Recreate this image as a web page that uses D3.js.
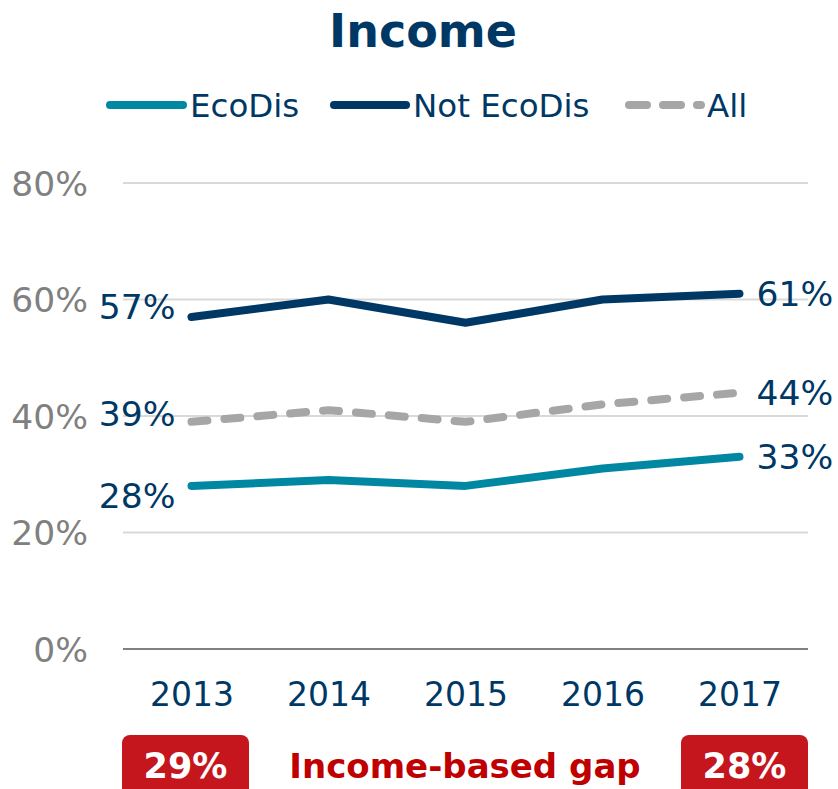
<!DOCTYPE html>
<html><head><meta charset="utf-8">
<script src="https://cdn.jsdelivr.net/npm/d3@7"></script>
<style>body{margin:0;background:#fff}svg{display:block}text{font-family:"DejaVu Sans",Verdana,sans-serif}</style>
</head><body><svg id="c" width="838" height="789"></svg>
<script>
const years = ["2013","2014","2015","2016","2017"];
const ecoDis = [28, 29, 28, 31, 33];
const notEcoDis = [57, 60, 56, 60, 61];
const all = [39, 41, 39, 42, 44];
const yTicks = [0, 20, 40, 60, 80];
const seriesNames = ["EcoDis", "Not EcoDis", "All"];
const gapYears = ["2013", "2017"];
const gapValues = ["29%", "28%"];
const gapTitle = "Income-based gap";
const title = "Income";

const svg = d3.select("#c");
const x = d3.scalePoint().domain(years).range([123, 808]).padding(0.5);
const y = d3.scaleLinear().domain([0, 80]).range([649, 183]);

svg.append("text").attr("x", 423).attr("y", 47).attr("text-anchor", "middle")
  .attr("font-size", 46).attr("font-weight", "bold").attr("fill", "#003865").text(title);

// gridlines
const grid = svg.append("g");
grid.selectAll("line").data(yTicks).join("line")
  .attr("x1", 123).attr("x2", 808)
  .attr("y1", d => y(d)).attr("y2", d => y(d))
  .attr("stroke", d => d === 0 ? "#808080" : "#d9d9d9").attr("stroke-width", 2);

// y axis labels
const yAxis = d3.axisLeft(y).tickValues(yTicks).tickFormat(d => d + "%").tickSize(0).tickPadding(0);
const ga = svg.append("g").attr("transform", "translate(88,0)").call(yAxis);
ga.select(".domain").remove();
ga.selectAll("text").attr("font-size", 34.5).attr("fill", "#808080")
  .attr("font-family", "DejaVu Sans").attr("dy", "0.36em");

// x axis labels
const xAxis = d3.axisBottom(x).tickSize(0).tickPadding(0);
const gx = svg.append("g").attr("transform", "translate(0,706)").call(xAxis);
gx.select(".domain").remove();
gx.selectAll("text").attr("font-size", 33).attr("fill", "#003865")
  .attr("font-family", "DejaVu Sans").attr("dy", 0);

const series = [
  {name: seriesNames[0], values: ecoDis, color: "#0088a3", dash: null, lOff: 10},
  {name: seriesNames[1], values: notEcoDis, color: "#003865", dash: null, lOff: -10},
  {name: seriesNames[2], values: all, color: "#a6a6a6", dash: "16,17", lOff: -8}
];
const line = d3.line().x((d, i) => x(years[i])).y(d => y(d));
const drawOrder = [series[2], series[0], series[1]];
drawOrder.forEach(s => {
  svg.append("path").datum(s.values).attr("d", line)
    .attr("fill", "none").attr("stroke", s.color).attr("stroke-width", 8)
    .attr("stroke-linejoin", "round").attr("stroke-linecap", "round")
    .attr("stroke-dasharray", s.dash);
});
series.forEach(s => {
  const v0 = s.values[0], v1 = s.values[s.values.length - 1];
  svg.append("text").attr("x", x(years[0]) - 16).attr("y", y(v0) + s.lOff)
    .attr("dy", "0.36em").attr("text-anchor", "end").attr("font-size", 34.5)
    .attr("fill", "#003865").text(v0 + "%");
  svg.append("text").attr("x", x(years[years.length - 1]) + 17).attr("y", y(v1))
    .attr("dy", "0.36em").attr("text-anchor", "start").attr("font-size", 34.5)
    .attr("fill", "#003865").text(v1 + "%");
});

// legend
const legendPos = [{x1: 110, x2: 183, tx: 190}, {x1: 334, x2: 406, tx: 413}, {x1: 629, x2: 701, tx: 707}];
series.forEach((s, i) => {
  const p = legendPos[i];
  svg.append("line").attr("x1", p.x1).attr("x2", p.x2).attr("y1", 105).attr("y2", 105)
    .attr("stroke", s.color).attr("stroke-width", 8).attr("stroke-linecap", "round")
    .attr("stroke-dasharray", s.dash ? "18,16" : null);
  svg.append("text").attr("x", p.tx).attr("y", 117).attr("font-size", 32.5)
    .attr("fill", "#003865").text(s.name);
});

// gap boxes, aligned with plot edges
const bw = 127;
gapYears.forEach((yr, i) => {
  const bx = i === 0 ? 122 : 808 - bw;
  svg.append("rect").attr("x", bx).attr("y", 735).attr("width", bw).attr("height", 70)
    .attr("rx", 8).attr("fill", "#c4161c");
  svg.append("text").attr("x", bx + bw / 2).attr("y", 778).attr("text-anchor", "middle")
    .attr("font-size", 35).attr("font-weight", "bold").attr("fill", "#fff").text(gapValues[i]);
});
svg.append("text").attr("x", 465).attr("y", 778).attr("text-anchor", "middle")
  .attr("font-size", 34).attr("font-weight", "bold").attr("fill", "#c00000").text(gapTitle);
</script></body></html>
